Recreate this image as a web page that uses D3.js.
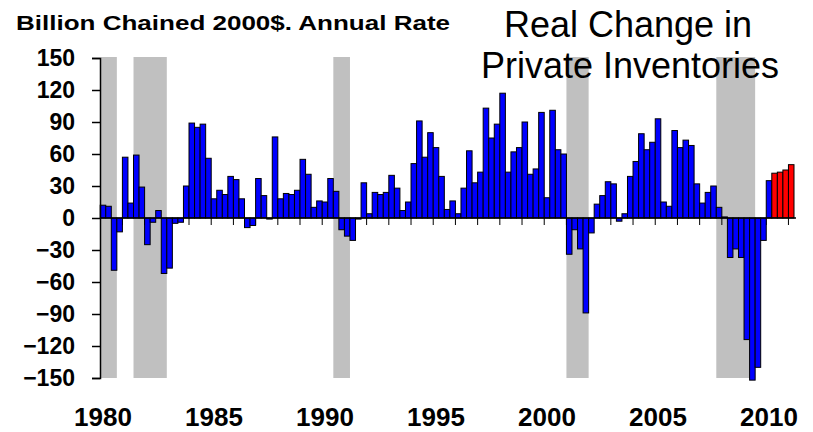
<!DOCTYPE html>
<html>
<head>
<meta charset="utf-8">
<script src="https://cdn.jsdelivr.net/npm/d3@7"></script>
<style>
  body { margin: 0; background: #fff; }
  svg { display: block; font-family: "Liberation Sans", Arial, sans-serif; }
</style>
</head>
<body>
<div id="chart"></div>
<script>
// Quarterly real change in private inventories, 1980Q1 .. 2011Q1
var startYear = 1980;
var inventoryChange = [
  12, 11, -49, -13,   57, 14, 59, 29,   -25, -4, 7, -52,   -47, -5, -4, 30,
  89, 85, 88, 56,     18, 26, 22, 39,   36, 18, -9, -7,    37, 21, -1, 76,
  18, 23, 22, 26,     55, 41, 10, 16,   15, 37, 25, -11,   -17, -21, -1, 33,
  4, 24, 22, 24,      40, 28, 7, 15,    51, 91, 57, 80,    66, 39, 8, 16,
  4, 28, 63, 33,      43, 103, 75, 88,  117, 43, 62, 66,   90, 41, 46, 99,
  19, 101, 64, 60,    -34, -11, -29, -89, -14, 13, 21, 34, 32, -3, 4, 39,
  53, 79, 64, 71,     93, 15, 11, 82,   66, 73, 68, 32,    14, 24, 30, 10,
  1, -37, -29, -37,   -114, -152, -140, -21, 35, 42, 43, 45, 50
];
// first quarter drawn in red (latest data)
var highlightFrom = "2010Q2";

// recessions, first and last quarter shaded
var recessions = [
  ["1980Q1", "1980Q3"],
  ["1981Q3", "1982Q4"],
  ["1990Q3", "1991Q1"],
  ["2001Q1", "2001Q4"],
  ["2007Q4", "2009Q2"]
];

var yTicks = [150, 120, 90, 60, 30, 0, -30, -60, -90, -120, -150];
var labelYears = [1980, 1985, 1990, 1995, 2000, 2005, 2010];

// quarter category names
var quarters = inventoryChange.map(function(v, i) {
  return (startYear + Math.floor(i / 4)) + "Q" + (i % 4 + 1);
});

var svgWidth = 813;
var svgHeight = 432;

var svg = d3.select("#chart")
  .append("svg")
  .attr("width", svgWidth)
  .attr("height", svgHeight);

var x = d3.scaleBand()
  .domain(quarters)
  .range([100.2, 794])
  .padding(0);

var y = d3.scaleLinear()
  .domain([-150, 150])
  .range([378, 58]);

// recession shading
svg.append("g")
  .selectAll("rect")
  .data(recessions)
  .enter()
  .append("rect")
  .attr("x", d => x(d[0]))
  .attr("width", d => x(d[1]) + x.bandwidth() - x(d[0]))
  .attr("y", y(150) - 1)
  .attr("height", y(-150) - y(150) + 1)
  .attr("fill", "#c0c0c0");

// titles
svg.append("text")
  .attr("x", 16)
  .attr("y", 30)
  .attr("font-size", 21)
  .attr("font-weight", "bold")
  .attr("textLength", 434)
  .attr("lengthAdjust", "spacingAndGlyphs")
  .text("Billion Chained 2000$. Annual Rate");

var title = svg.append("text")
  .attr("text-anchor", "middle")
  .attr("font-size", 36)
  .attr("fill", "#000");
title.append("tspan").attr("x", 628).attr("y", 37).text("Real Change in");
title.append("tspan").attr("x", 630).attr("y", 78).text("Private Inventories");

// year tick marks below the zero line
var yearQuarters = quarters.filter(q => q.endsWith("Q1"));
svg.append("g")
  .selectAll("line")
  .data(yearQuarters.slice(1))
  .enter()
  .append("line")
  .attr("x1", d => x(d))
  .attr("x2", d => x(d))
  .attr("y1", y(0))
  .attr("y2", y(0) + 7)
  .attr("stroke", "#000")
  .attr("stroke-width", 1);

// bars
var hiIndex = quarters.indexOf(highlightFrom);
svg.append("g")
  .selectAll("rect")
  .data(inventoryChange)
  .enter()
  .append("rect")
  .attr("x", (d, i) => x(quarters[i]))
  .attr("width", x.bandwidth())
  .attr("y", d => y(Math.max(0, d)))
  .attr("height", d => Math.abs(y(d) - y(0)))
  .attr("fill", (d, i) => i >= hiIndex ? "#ff0000" : "#0000ff")
  .attr("stroke", "#000")
  .attr("stroke-width", 1);

// zero line
svg.append("line")
  .attr("x1", x.range()[0])
  .attr("x2", x.range()[1] + 2)
  .attr("y1", y(0))
  .attr("y2", y(0))
  .attr("stroke", "#000")
  .attr("stroke-width", 1.5);

// y axis
var leftAxis = d3.axisLeft(y)
  .tickValues(yTicks)
  .tickSize(8)
  .tickPadding(17);

var yAxis = svg.append("g")
  .attr("transform", "translate(100,0)")
  .call(leftAxis);
yAxis.select(".domain").attr("stroke-width", 1.5);
yAxis.selectAll(".tick line").attr("stroke-width", 1.5);
yAxis.selectAll("text")
  .attr("font-size", 23)
  .attr("font-weight", "bold")
  .attr("font-family", "Liberation Sans, Arial, sans-serif")
  .attr("fill", "#000");

// x labels
var bottomAxis = d3.axisBottom(x)
  .tickValues(labelYears.map(yr => yr + "Q1"))
  .tickSize(0)
  .tickPadding(8)
  .tickFormat(q => q.slice(0, 4));

var xAxis = svg.append("g")
  .attr("transform", "translate(0,400)")
  .call(bottomAxis);
xAxis.select(".domain").remove();
xAxis.selectAll("text")
  .attr("font-size", 26)
  .attr("font-weight", "bold")
  .attr("font-family", "Liberation Sans, Arial, sans-serif")
  .attr("fill", "#000");
</script>
</body>
</html>
